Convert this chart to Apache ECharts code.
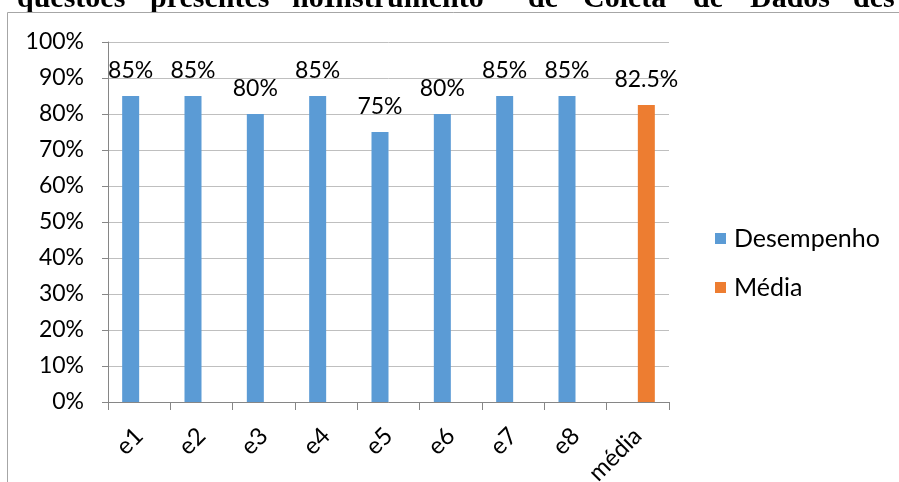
<!DOCTYPE html>
<html>
<head>
<meta charset="utf-8">
<script src="https://cdn.jsdelivr.net/npm/echarts@6/dist/echarts.min.js"></script>
<style>
html,body{margin:0;padding:0;background:#fff;}
#chart{width:899px;height:482px;}
</style>
</head>
<body>
<div id="chart"></div>
<script>
const categories = ['e1','e2','e3','e4','e5','e6','e7','e8','média'];
const desempenho = [85,85,80,85,75,80,85,85,null];
const media = [null,null,null,null,null,null,null,null,82.5];
const yTicks = [0,10,20,30,40,50,60,70,80,90,100];
const titleWords = ['questões','presentes','noInstrumento','de','Coleta','de','Dados','des'];
const titleWordX = [17,150,292,528,583,693,750,853];

const FONT = 'Lato';
const chart = echarts.init(document.getElementById('chart'));

const graphics = titleWords.map((w,i)=>({
  type:'text', left:titleWordX[i], top:-16, z:-20, silent:true,
  style:{text:w, font:'bold 30px "Liberation Serif"', fill:'#000'}
}));
graphics.push({
  type:'rect', z:-10, silent:true,
  shape:{x:7.5,y:12.5,width:1000,height:600},
  style:{fill:'#fff', stroke:'#a6a6a6', lineWidth:1}
});

chart.setOption({
  animation:false,
  graphic:graphics,
  grid:{left:108,right:230,top:42,bottom:80,containLabel:false,outerBoundsMode:'none'},
  legend:{
    orient:'vertical', left:710, top:221, itemWidth:11, itemHeight:11, itemGap:24,
    icon:'rect',
    textStyle:{fontFamily:FONT,fontSize:25,color:'#000',padding:[0,0,0,3]},
    data:['Desempenho','Média']
  },
  xAxis:{
    type:'category', data:categories, boundaryGap:true,
    axisLine:{lineStyle:{color:'#868686',width:1}},
    axisTick:{show:true,interval:0,length:8,lineStyle:{color:'#868686'}},
    axisLabel:{interval:0,rotate:45,margin:30,fontFamily:FONT,fontSize:24,color:'#000'}
  },
  yAxis:{
    type:'value', min:yTicks[0], max:yTicks[yTicks.length-1], interval:10,
    axisLine:{show:true,lineStyle:{color:'#868686',width:1}},
    axisTick:{show:true,length:6,lineStyle:{color:'#868686'}},
    axisLabel:{formatter:'{value}%',margin:24,fontFamily:FONT,fontSize:23,color:'#000'},
    splitLine:{show:true,lineStyle:{color:'#bfbfbf',width:1}}
  },
  series:[
    {
      name:'Desempenho', type:'bar', data:desempenho, barWidth:17, barGap:'0%',
      itemStyle:{color:'#5b9bd5'},
      label:{show:true,position:'top',distance:14,formatter:'{c}%',fontFamily:FONT,fontSize:23,color:'#000'}
    },
    {
      name:'Média', type:'bar', data:media, barWidth:17, barGap:'0%',
      itemStyle:{color:'#ed7d31'},
      label:{show:true,position:'top',distance:14,formatter:'{c}%',fontFamily:FONT,fontSize:23,color:'#000'}
    }
  ]
});
</script>
</body>
</html>
